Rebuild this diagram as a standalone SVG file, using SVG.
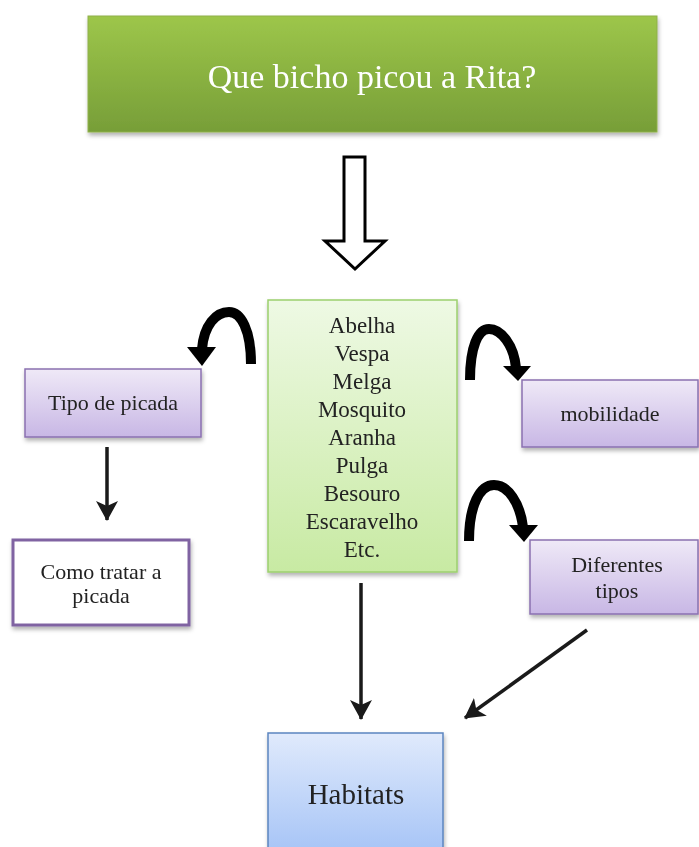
<svg xmlns="http://www.w3.org/2000/svg" width="699" height="847" viewBox="0 0 699 847">
<defs>
<linearGradient id="gTop" x1="0" y1="0" x2="0" y2="1"><stop offset="0" stop-color="#9dc64a"/><stop offset="1" stop-color="#779e38"/></linearGradient>
<linearGradient id="gCenter" x1="0" y1="0" x2="0" y2="1"><stop offset="0" stop-color="#eef9e4"/><stop offset="1" stop-color="#c8eaa3"/></linearGradient>
<linearGradient id="gPurple" x1="0" y1="0" x2="0" y2="1"><stop offset="0" stop-color="#efe9f7"/><stop offset="1" stop-color="#c8b7e5"/></linearGradient>
<linearGradient id="gBlue" x1="0" y1="0" x2="0" y2="1"><stop offset="0" stop-color="#e0eafc"/><stop offset="1" stop-color="#a6c4f6"/></linearGradient>
<filter id="sh" x="-10%" y="-10%" width="120%" height="130%"><feDropShadow dx="1" dy="3" stdDeviation="2" flood-color="#000" flood-opacity="0.3"/></filter>
<marker id="ah" viewBox="0 0 20 22" refX="19" refY="11" markerWidth="20" markerHeight="22" orient="auto" markerUnits="userSpaceOnUse">
<path d="M0,0 L20,11 L0,22 L5,11 Z" fill="#1a1a1a"/>
</marker>
</defs>
<style>
text{font-family:"Liberation Serif","Times New Roman",serif;fill:#222;text-anchor:middle}
.pbox{fill:url(#gPurple);stroke:#8a70b0;stroke-width:1.5}
.line{stroke:#1a1a1a;stroke-width:3.5;fill:none}
.curve{stroke:#000;stroke-width:10;fill:none;stroke-linecap:butt}
</style>

<g id="node-title" filter="url(#sh)">
<rect x="88" y="16" width="569" height="116" fill="url(#gTop)" stroke="#8fb04a" stroke-width="1"/>
<text x="372" y="88" font-size="34" style="fill:#fff">Que bicho picou a Rita?</text>
</g>

<g id="node-insects" filter="url(#sh)">
<rect x="268" y="300" width="189" height="272" fill="url(#gCenter)" stroke="#9ccf6e" stroke-width="1.5"/>
<text x="362" y="333" font-size="23">Abelha</text>
<text x="362" y="361" font-size="23">Vespa</text>
<text x="362" y="389" font-size="23">Melga</text>
<text x="362" y="417" font-size="23">Mosquito</text>
<text x="362" y="445" font-size="23">Aranha</text>
<text x="362" y="473" font-size="23">Pulga</text>
<text x="362" y="501" font-size="23">Besouro</text>
<text x="362" y="529" font-size="23">Escaravelho</text>
<text x="362" y="557" font-size="23">Etc.</text>
</g>

<g id="node-tipo" filter="url(#sh)">
<rect class="pbox" x="25" y="369" width="176" height="68"/>
<text x="113" y="410" font-size="22">Tipo de picada</text>
</g>

<g id="node-tratar" filter="url(#sh)">
<rect x="13" y="540" width="176" height="85" fill="#fff" stroke="#8064a2" stroke-width="3"/>
<text x="101" y="579" font-size="22">Como tratar a</text>
<text x="101" y="603" font-size="22">picada</text>
</g>

<g id="node-mobilidade" filter="url(#sh)">
<rect class="pbox" x="522" y="380" width="176" height="67"/>
<text x="610" y="421" font-size="22">mobilidade</text>
</g>

<g id="node-diferentes" filter="url(#sh)">
<rect class="pbox" x="530" y="540" width="168" height="74"/>
<text x="617" y="572" font-size="22">Diferentes</text>
<text x="617" y="598" font-size="22">tipos</text>
</g>

<g id="node-habitats" filter="url(#sh)">
<rect x="268" y="733" width="175" height="120" fill="url(#gBlue)" stroke="#5b85c0" stroke-width="1.5"/>
<text x="356" y="804" font-size="29">Habitats</text>
</g>

<g id="connectors">
<path d="M344,157 L365,157 L365,241 L385,241 L355,269 L325,241 L344,241 Z" fill="#fff" stroke="#000" stroke-width="3" stroke-linejoin="miter"/>

<path class="curve" d="M251,364 C251,330 241,312 229,312 C216,312 204,325 202,349"/>
<polygon points="187,347 216,347 202,366" fill="#000"/>

<path class="curve" d="M470,380 C470,347 478,329 489,329 C501,329 514,345 516,368"/>
<polygon points="503,366 531,366 518,381" fill="#000"/>

<path class="curve" d="M469,541 C469,505 480,485 494,485 C508,485 520,503 523,527"/>
<polygon points="509,525 538,525 524,542" fill="#000"/>

<line class="line" x1="107" y1="447" x2="107" y2="520" marker-end="url(#ah)"/>
<line class="line" x1="361" y1="583" x2="361" y2="719" marker-end="url(#ah)"/>
<line class="line" x1="587" y1="630" x2="465" y2="718" marker-end="url(#ah)"/>
</g>
</svg>
